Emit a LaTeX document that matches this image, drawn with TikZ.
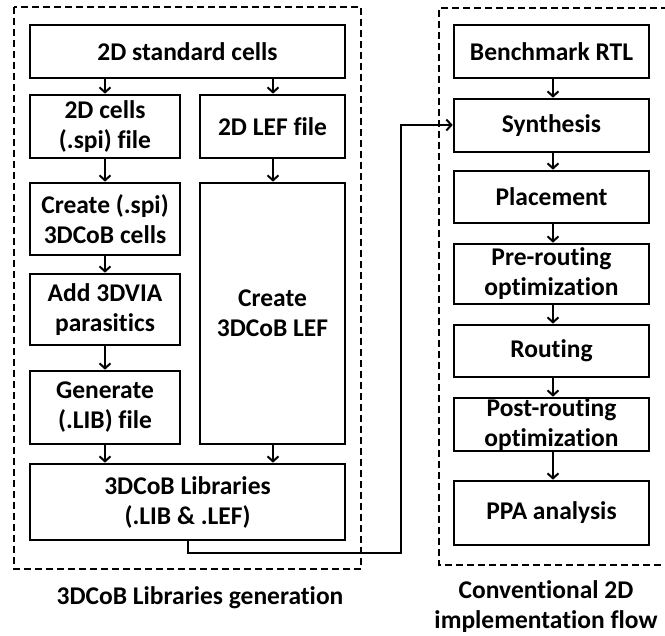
\documentclass[tikz,border=0pt]{standalone}
\usepackage{fontspec}
\setmainfont{Carlito}[Ligatures={NoCommon}]
\usetikzlibrary{arrows.meta}
\tikzset{
  blk/.style={draw=black, line width=2.6pt, align=center, inner sep=0pt, font=\fontsize{25.5}{30}\selectfont\bfseries},
  grp/.style={draw=black, line width=2.2pt, dash pattern=on 7pt off 4pt},
  flow/.style={line width=2.2pt, -{Straight Barb[length=5pt,width=11pt,line width=2pt]}},
  captxt/.style={align=center, font=\fontsize{25.5}{30}\selectfont\bfseries}
}
\newcommand{\bx}[6]{\node[blk, minimum width=#4-#2, minimum height=#5-#3] (#1) at ({(#2+#4)/2},{(#3+#5)/2}) {#6};}
\begin{document}
\begin{tikzpicture}[x=1pt,y=-1pt]
\useasboundingbox (0,0) rectangle (665,636);
% groups
\draw[grp] (14,7) rectangle (361,569);
\draw[grp] (690,8) -- (439,8) -- (439,565) -- (690,565);
% left
\bx{std}{30}{25}{345}{78}{2D standard cells}
\bx{spi}{30}{95}{180}{158}{2D cells\\(.spi) file}
\bx{lef}{200}{95}{345}{158}{2D LEF file}
\bx{cre}{30}{183}{180}{255}{Create (.spi)\\3DCoB cells}
\bx{add}{30}{274}{180}{345}{Add 3DVIA\\parasitics}
\bx{gen}{30}{371}{180}{444}{Generate\\(.LIB) file}
\bx{clef}{200}{183}{345}{444}{Create\\3DCoB LEF}
\bx{lib}{30}{464}{345}{540}{3DCoB Libraries\\(.LIB \& .LEF)}
% right
\bx{rtl}{454}{25}{649}{78}{Benchmark RTL}
\bx{syn}{454}{99}{649}{152}{Synthesis}
\bx{pla}{454}{171}{649}{223}{Placement}
\bx{pre}{454}{244}{649}{304}{Pre-routing\\optimization}
\bx{rou}{454}{325}{649}{377}{Routing}
\bx{post}{454}{398}{649}{451}{Post-routing\\optimization}
\bx{ppa}{454}{481}{649}{545}{PPA analysis}
% captions
\node[captxt] (c1) at (200,598) {3DCoB Libraries generation};
\node[captxt] (c2) at (546,607) {Conventional 2D\\implementation flow};
% left arrows
\draw[flow] (std.south -| 105,0) -- (spi.north -| 105,0);
\draw[flow] (std.south -| 273,0) -- (lef.north -| 273,0);
\draw[flow] (spi.south -| 105,0) -- (cre.north -| 105,0);
\draw[flow] (cre.south -| 105,0) -- (add.north -| 105,0);
\draw[flow] (add.south -| 105,0) -- (gen.north -| 105,0);
\draw[flow] (gen.south -| 105,0) -- (lib.north -| 105,0);
\draw[flow] (lef.south -| 273,0) -- (clef.north -| 273,0);
\draw[flow] (clef.south -| 273,0) -- (lib.north -| 273,0);
% right arrows
\draw[flow] (rtl.south -| 553,0) -- (syn.north -| 553,0);
\draw[flow] (syn.south -| 553,0) -- (pla.north -| 553,0);
\draw[flow] (pla.south -| 553,0) -- (pre.north -| 553,0);
\draw[flow] (pre.south -| 553,0) -- (rou.north -| 553,0);
\draw[flow] (rou.south -| 553,0) -- (post.north -| 553,0);
\draw[flow] (post.south -| 553,0) -- (ppa.north -| 553,0);
% connector
\coordinate (k1) at (188,553);
\coordinate (k2) at (401,553);
\coordinate (k3) at (401,125);
\draw[flow] (lib.south -| k1) -- (k1) -- (k2) -- (k3) -- (syn.west |- k3);
\end{tikzpicture}
\end{document}
